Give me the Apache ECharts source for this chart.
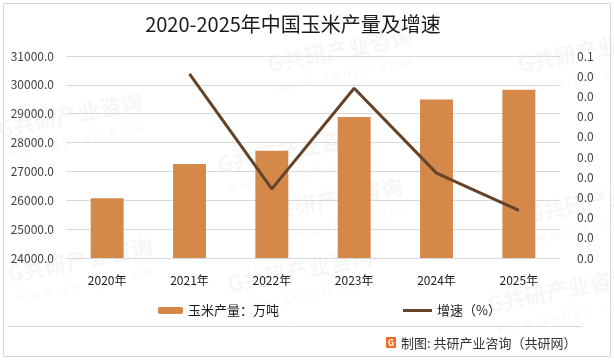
<!DOCTYPE html>
<html>
<head>
<meta charset="utf-8">
<script src="https://cdn.jsdelivr.net/npm/echarts@6/dist/echarts.min.js"></script>
<style>html,body{margin:0;padding:0;background:#fff;}#c{width:614px;height:361px;}</style>
</head>
<body>
<div id="c"></div>
<script>
const categories = ['2020年', '2021年', '2022年', '2023年', '2024年', '2025年'];
const production = [26067, 27255, 27720, 28884, 29492, 29830];
const growth = [null, 0.0456, 0.0171, 0.0420, 0.0210, 0.0118];
const titleText = '2020-2025年中国玉米产量及增速';
const barName = '玉米产量：万吨';
const lineName = '增速（%）';
const sourceText = '制图: 共研产业咨询（共研网）';

const FONT = '"Noto Sans CJK SC", "Microsoft YaHei", sans-serif';
const chart = echarts.init(document.getElementById('c'), null, {renderer: 'canvas'});

const wm = [];
const wmPos = [[70,115],[340,50],[590,50],[290,150],[600,200],[80,260],[300,270],[330,200],[560,290]];
wmPos.forEach(p => {
  wm.push({type:'text', x:p[0], y:p[1], rotation: 0.2, z: -1, silent:true,
    style:{text:'G共研产业咨询', font:'bold 22px ' + FONT, fill:'rgba(0,0,0,0.035)', align:'center', verticalAlign:'middle'}});
  wm.push({type:'text', x:p[0]+4, y:p[1]+24, rotation: 0.2, z: -1, silent:true,
    style:{text:'w w w . g o n y n . c o m', font:'13px ' + FONT, fill:'rgba(0,0,0,0.035)', align:'center', verticalAlign:'middle'}});
});

chart.setOption({
  backgroundColor: '#fff',
  animation: false,
  title: {
    text: titleText, left: 288, top: 9, textAlign: 'center',
    textStyle: {fontFamily: FONT, fontSize: 20, fontWeight: 'normal', color: '#1a1a1a'}
  },
  legend: [
    {data: [barName], left: 153, top: 299, itemWidth: 25, itemHeight: 7, itemGap: 4,
     textStyle: {fontFamily: FONT, fontSize: 13, color: '#1a1a1a'}},
    {data: [{name: lineName, icon: 'rect'}], left: 398, top: 299, itemWidth: 29, itemHeight: 3, itemGap: 2,
     textStyle: {fontFamily: FONT, fontSize: 13, color: '#1a1a1a'}}
  ],
  grid: {left: 66, right: 54, top: 56, bottom: 103, containLabel: false},
  xAxis: {
    type: 'category', data: categories, boundaryGap: true,
    axisLine: {show: false}, axisTick: {show: false},
    axisLabel: {fontFamily: FONT, fontSize: 12, color: '#1a1a1a', margin: 16}
  },
  yAxis: [
    {type: 'value', min: 24000, max: 31000, interval: 1000,
     axisLine: {show: false}, axisTick: {show: false},
     splitLine: {lineStyle: {color: '#d9d9d9', width: 1}},
     axisLabel: {fontFamily: FONT, fontSize: 12, color: '#404040', margin: 12, formatter: v => v.toFixed(1)}},
    {type: 'value', min: 0, max: 0.05, interval: 0.005, position: 'right',
     axisLine: {show: false}, axisTick: {show: false}, splitLine: {show: false},
     axisLabel: {fontFamily: FONT, fontSize: 12, color: '#404040', margin: 17,
       formatter: v => (Math.round(v * 10 + 1e-9) / 10).toFixed(1)}}
  ],
  series: [
    {name: barName, type: 'bar', data: production, barWidth: '40%', itemStyle: {color: '#d4894b'}, yAxisIndex: 0},
    {name: lineName, type: 'line', data: growth, yAxisIndex: 1, symbol: 'none', connectNulls: false,
     lineStyle: {color: '#654329', width: 3}, itemStyle: {color: '#654329'}, z: 5}
  ],
  graphic: wm.concat([
    {type: 'rect', shape: {x: 3.5, y: 3.5, width: 607, height: 353}, style: {fill: 'none', stroke: '#d9d9d9', lineWidth: 1}, silent: true},
    {type: 'line', shape: {x1: 7, y1: 326.5, x2: 582, y2: 326.5}, style: {stroke: '#d9d9d9', lineWidth: 1}, silent: true},
    {type: 'rect', shape: {x: 386, y: 337, width: 10, height: 11, r: 1}, style: {fill: '#f26b1d'}, silent: true},
    {type: 'text', x: 391, y: 343, style: {text: 'G', font: 'bold 9px ' + FONT, fill: '#fff', align: 'center', verticalAlign: 'middle'}, silent: true},
    {type: 'text', x: 401, y: 343, style: {text: sourceText, font: '13px ' + FONT, fill: '#333', verticalAlign: 'middle'}, silent: true}
  ])
});
</script>
</body>
</html>
